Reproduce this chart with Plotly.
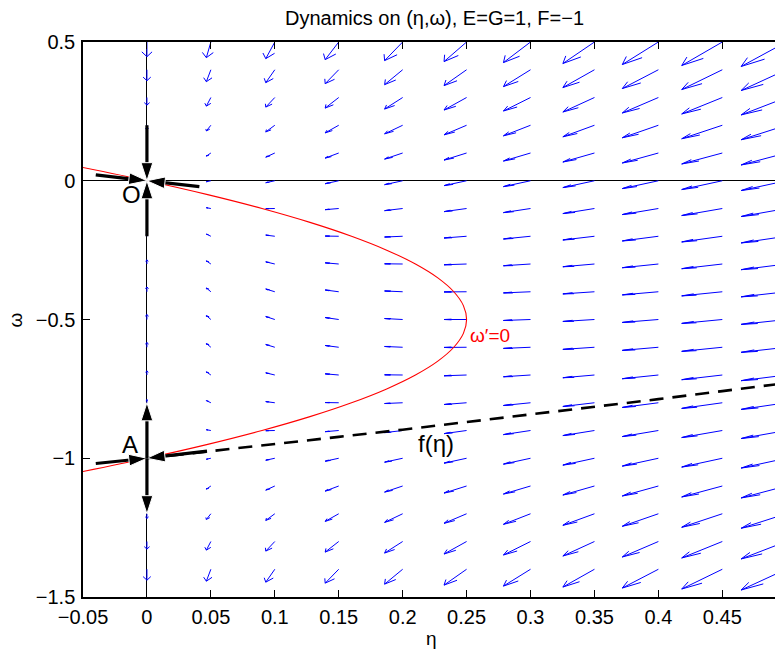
import plotly.graph_objects as go

# ---- vector field on the (eta, omega) grid ----
eta_grid = [0.0, 0.05, 0.1, 0.15, 0.2, 0.25, 0.3, 0.35, 0.4, 0.45, 0.5]
omega_grid = [0.5, 0.4, 0.3, 0.2, 0.1, 0.0, -0.1, -0.2, -0.3, -0.4, -0.5,
              -0.6, -0.7, -0.8, -0.9, -1.0, -1.1, -1.2, -1.3, -1.4, -1.5]

# eta' for each grid column (independent of omega)
eta_rate = [0.0, -0.05, -0.10, -0.15, -0.20, -0.25, -0.30, -0.35, -0.40, -0.45, -0.50]

# omega' table: one row per omega_grid value, one column per eta_grid value
omega_rate = [
    [-0.75, -0.80, -0.85, -0.90, -0.95, -1.00, -1.05, -1.10, -1.15, -1.20, -1.25],
    [-0.56, -0.61, -0.66, -0.71, -0.76, -0.81, -0.86, -0.91, -0.96, -1.01, -1.06],
    [-0.39, -0.44, -0.49, -0.54, -0.59, -0.64, -0.69, -0.74, -0.79, -0.84, -0.89],
    [-0.24, -0.29, -0.34, -0.39, -0.44, -0.49, -0.54, -0.59, -0.64, -0.69, -0.74],
    [-0.11, -0.16, -0.21, -0.26, -0.31, -0.36, -0.41, -0.46, -0.51, -0.56, -0.61],
    [0.00, -0.05, -0.10, -0.15, -0.20, -0.25, -0.30, -0.35, -0.40, -0.45, -0.50],
    [0.09, 0.04, -0.01, -0.06, -0.11, -0.16, -0.21, -0.26, -0.31, -0.36, -0.41],
    [0.16, 0.11, 0.06, 0.01, -0.04, -0.09, -0.14, -0.19, -0.24, -0.29, -0.34],
    [0.21, 0.16, 0.11, 0.06, 0.01, -0.04, -0.09, -0.14, -0.19, -0.24, -0.29],
    [0.24, 0.19, 0.14, 0.09, 0.04, -0.01, -0.06, -0.11, -0.16, -0.21, -0.26],
    [0.25, 0.20, 0.15, 0.10, 0.05, 0.00, -0.05, -0.10, -0.15, -0.20, -0.25],
    [0.24, 0.19, 0.14, 0.09, 0.04, -0.01, -0.06, -0.11, -0.16, -0.21, -0.26],
    [0.21, 0.16, 0.11, 0.06, 0.01, -0.04, -0.09, -0.14, -0.19, -0.24, -0.29],
    [0.16, 0.11, 0.06, 0.01, -0.04, -0.09, -0.14, -0.19, -0.24, -0.29, -0.34],
    [0.09, 0.04, -0.01, -0.06, -0.11, -0.16, -0.21, -0.26, -0.31, -0.36, -0.41],
    [0.00, -0.05, -0.10, -0.15, -0.20, -0.25, -0.30, -0.35, -0.40, -0.45, -0.50],
    [-0.11, -0.16, -0.21, -0.26, -0.31, -0.36, -0.41, -0.46, -0.51, -0.56, -0.61],
    [-0.24, -0.29, -0.34, -0.39, -0.44, -0.49, -0.54, -0.59, -0.64, -0.69, -0.74],
    [-0.39, -0.44, -0.49, -0.54, -0.59, -0.64, -0.69, -0.74, -0.79, -0.84, -0.89],
    [-0.56, -0.61, -0.66, -0.71, -0.76, -0.81, -0.86, -0.91, -0.96, -1.01, -1.06],
    [-0.75, -0.80, -0.85, -0.90, -0.95, -1.00, -1.05, -1.10, -1.15, -1.20, -1.25],
]

# ---- nullcline omega' = 0 ----
nullcline_omega = [0.05, 0.0, -0.05, -0.1, -0.15, -0.2, -0.25, -0.3, -0.35, -0.4, -0.45,
                   -0.5, -0.55, -0.6, -0.65, -0.7, -0.75, -0.8, -0.85, -0.9, -0.95, -1.0, -1.05]
nullcline_eta = [-0.0525, 0.0, 0.0475, 0.09, 0.1275, 0.16, 0.1875, 0.21, 0.2275, 0.24, 0.2475,
                 0.25, 0.2475, 0.24, 0.2275, 0.21, 0.1875, 0.16, 0.1275, 0.09, 0.0475, 0.0, -0.0525]

# ---- stable manifold of A, omega = f(eta) ----
manifold_eta = [0.0, 0.05, 0.1, 0.15, 0.2, 0.25, 0.3, 0.35, 0.4, 0.45, 0.5]
manifold_omega = [-1.0, -0.975, -0.949, -0.923, -0.897, -0.870, -0.842, -0.815, -0.787, -0.758, -0.729]

# ---- thick arrows at the equilibria O and A: (start, end) ----
node_arrows = [
    ((-0.040, 0.021), (0.0, 0.0)),
    ((0.041, -0.021), (0.0, 0.0)),
    ((0.0, 0.2), (0.0, 0.0)),
    ((0.0, -0.2), (0.0, 0.0)),
    ((-0.040, -1.019), (0.0, -1.0)),
    ((0.047, -0.974), (0.0, -1.0)),
    ((0.0, -1.0), (0.0, -0.8)),
    ((0.0, -1.0), (0.0, -1.2)),
]

x_ticks = [-0.05, 0.0, 0.05, 0.1, 0.15, 0.2, 0.25, 0.3, 0.35, 0.4, 0.45]
x_tick_labels = ["\u22120.05", "0", "0.05", "0.1", "0.15", "0.2", "0.25", "0.3", "0.35", "0.4", "0.45"]
y_ticks = [0.5, 0.0, -0.5, -1.0, -1.5]
y_tick_labels = ["0.5", "0", "\u22120.5", "\u22121", "\u22121.5"]

FONT = "Liberation Sans, Arial, Helvetica, sans-serif"

# ---- quiver with automatic scaling and V-shaped heads in data units ----
n_cols, n_rows = len(eta_grid), len(omega_grid)
delx = (max(eta_grid) - min(eta_grid)) / n_cols
dely = (max(omega_grid) - min(omega_grid)) / n_rows
del2 = delx ** 2 + dely ** 2
max_len = 0.0
for i in range(n_rows):
    for j in range(n_cols):
        l = ((eta_rate[j] ** 2 + omega_rate[i][j] ** 2) / del2) ** 0.5
        max_len = max(max_len, l)
autoscale = 0.9 / max_len
alpha, beta = 0.33, 0.23

qx, qy = [], []
for i, w in enumerate(omega_grid):
    for j, e in enumerate(eta_grid):
        u = eta_rate[j] * autoscale
        v = omega_rate[i][j] * autoscale
        if u == 0 and v == 0:
            continue
        hx, hy = e + u, w + v
        qx += [e, hx, None]
        qy += [w, hy, None]
        qx += [hx - alpha * (u + beta * v), hx, hx - alpha * (u - beta * v), None]
        qy += [hy - alpha * (v - beta * u), hy, hy - alpha * (v + beta * u), None]

fig = go.Figure()
fig.add_trace(go.Scatter(x=qx, y=qy, mode="lines", line=dict(color="#0000ff", width=1),
                         hoverinfo="skip", showlegend=False))
fig.add_trace(go.Scatter(x=nullcline_eta, y=nullcline_omega, mode="lines",
                         line=dict(color="#ff0000", width=1.1, shape="spline"),
                         showlegend=False))
fig.add_trace(go.Scatter(x=manifold_eta, y=manifold_omega, mode="lines",
                         line=dict(color="black", width=2.6, dash="14px,9px"),
                         showlegend=False))
for (x0, y0), (x1, y1) in node_arrows:
    fig.add_trace(go.Scatter(
        x=[x0, x1], y=[y0, y1], mode="lines+markers",
        line=dict(color="black", width=3.2),
        marker=dict(symbol=["circle", "arrow"], size=[0, 19], opacity=[0, 1],
                    color="black", angleref="previous"),
        showlegend=False))

labels = [
    dict(x=-0.0117, y=-0.050, text="O", size=24, color="black"),
    dict(x=-0.013, y=-0.952, text="A", size=24, color="black"),
    dict(x=0.226, y=-0.948, text="f(\u03b7)", size=24, color="black"),
]
for lb in labels:
    fig.add_annotation(x=lb["x"], y=lb["y"], text=lb["text"], showarrow=False,
                       xanchor="center", yanchor="middle",
                       font=dict(family=FONT, size=lb["size"], color=lb["color"]))
fig.add_annotation(x=0.251, y=-0.556, text="\u03c9\u2032=0", showarrow=False,
                   xanchor="left", yanchor="middle",
                   font=dict(family=FONT, size=19, color="#ff0000"))

# axis titles
fig.add_annotation(xref="paper", yref="paper", x=0.504, y=-0.074, text="\u03b7",
                   showarrow=False, xanchor="center", yanchor="middle",
                   font=dict(family=FONT, size=19, color="black"))
fig.add_annotation(xref="paper", yref="paper", x=-0.097, y=0.5, text="\u03c9",
                   showarrow=False, textangle=-90, xanchor="center", yanchor="middle",
                   font=dict(family=FONT, size=19, color="black"))

axis_common = dict(ticks="inside", ticklen=7, tickwidth=1, tickcolor="black",
                   showline=True, linecolor="black", linewidth=1.5, showgrid=False,
                   zeroline=True, zerolinecolor="black", zerolinewidth=1,
                   tickfont=dict(family=FONT, size=20, color="black"))

fig.update_layout(
    width=775, height=652,
    margin=dict(l=83, r=0, t=42, b=55),
    paper_bgcolor="white", plot_bgcolor="white",
    title=dict(text="Dynamics on (\u03b7,\u03c9), E=G=1, F=\u22121",
               x=0.508, xref="paper", xanchor="center",
               y=1 - 18 / 652, yref="container", yanchor="middle",
               font=dict(family=FONT, size=20, color="black")),
    xaxis=dict(range=[-0.05, 0.4912], tickvals=x_ticks, ticktext=x_tick_labels,
               mirror="ticks", ticklabelstandoff=1, **axis_common),
    yaxis=dict(range=[-1.5, 0.5], tickvals=y_ticks, ticktext=y_tick_labels,
               mirror=False, ticklabelstandoff=2, **axis_common),
    showlegend=False,
)

fig.write_html("out.html")
